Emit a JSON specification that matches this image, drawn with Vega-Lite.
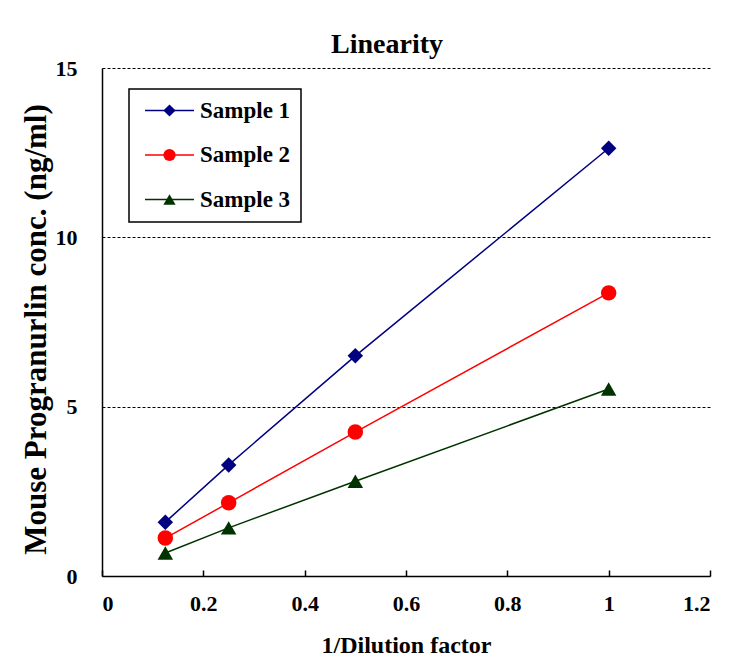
{
  "$schema": "https://vega.github.io/schema/vega-lite/v6.json",
  "autosize": {"type": "none"},
  "padding": {"left": 102, "top": 68, "right": 25, "bottom": 84},
  "width": 608,
  "height": 508,
  "background": "white",
  "title": {
    "text": "Linearity",
    "font": "Liberation Serif",
    "fontSize": 28,
    "fontWeight": "bold",
    "color": "black",
    "offset": -2,
    "dx": -19
  },
  "data": {
    "values": [
      {"series": "Sample 1", "marker": "Sample 1", "x": 0.125, "y": 1.59},
      {"series": "Sample 1", "marker": "Sample 1", "x": 0.25, "y": 3.28},
      {"series": "Sample 1", "marker": "Sample 1", "x": 0.5, "y": 6.5},
      {"series": "Sample 1", "marker": "Sample 1", "x": 1, "y": 12.63},
      {"series": "Sample 2", "marker": "Sample 2", "x": 0.125, "y": 1.12},
      {"series": "Sample 2", "marker": "Sample 2", "x": 0.25, "y": 2.16},
      {"series": "Sample 2", "marker": "Sample 2", "x": 0.5, "y": 4.25},
      {"series": "Sample 2", "marker": "Sample 2", "x": 1, "y": 8.36},
      {"series": "Sample 3", "marker": "Sample 3", "x": 0.125, "y": 0.68},
      {"series": "Sample 3", "marker": "Sample 3", "x": 0.25, "y": 1.42},
      {"series": "Sample 3", "marker": "Sample 3", "x": 0.5, "y": 2.8},
      {"series": "Sample 3", "marker": "Sample 3", "x": 1, "y": 5.52}
    ]
  },
  "encoding": {
    "x": {
      "field": "x",
      "type": "quantitative",
      "title": "1/Dilution factor",
      "scale": {"domain": [0, 1.2], "nice": false, "zero": false},
      "axis": {
        "values": [0, 0.2, 0.4, 0.6, 0.8, 1, 1.2],
        "labelExpr": "datum.value == 0 ? '0' : datum.value == 1 ? '1' : format(datum.value, '.1f')",
        "grid": false,
        "tickSize": -6,
        "labelPadding": 23,
        "titlePadding": 19
      }
    },
    "y": {
      "field": "y",
      "type": "quantitative",
      "title": "Mouse Progranurlin conc. (ng/ml)",
      "scale": {"domain": [0, 15], "nice": false},
      "axis": {
        "values": [0, 5, 10, 15],
        "grid": true,
        "gridDash": [3, 2],
        "gridColor": "black",
        "gridWidth": 1,
        "ticks": false,
        "labelPadding": 25,
        "titlePadding": 3,
        "titleY": 261,
        "titleFontSize": 31
      }
    }
  },
  "layer": [
    {
      "mark": {"type": "line", "strokeWidth": 1.5},
      "encoding": {
        "color": {
          "field": "series",
          "type": "nominal",
          "scale": {
            "domain": ["Sample 1", "Sample 2", "Sample 3"],
            "range": ["#000080", "#FF0000", "#003300"]
          },
          "legend": {
            "orient": "none",
            "legendX": 27,
            "legendY": 21,
            "title": null,
            "symbolType": "M-4,0H4",
            "symbolSize": 150,
            "symbolStrokeWidth": 1.5,
            "symbolOffset": 19,
            "labelOffset": 19,
            "labelExpr": "datum.label + ' '",
            "padding": 10,
            "rowPadding": 20.5,
            "strokeColor": "black",
            "encode": {"legend": {"update": {"strokeWidth": {"value": 1.5}}}}
          }
        }
      }
    },
    {
      "mark": {"type": "point", "filled": true, "opacity": 1, "size": 240},
      "encoding": {
        "color": {
          "field": "marker",
          "type": "nominal",
          "scale": {"range": ["#000080", "#FF0000", "#003300"]},
          "legend": {
            "orient": "none",
            "legendX": 27,
            "legendY": 21,
            "title": null,
            "symbolSize": 150,
            "symbolOpacity": 1,
            "symbolStrokeWidth": 0,
            "symbolOffset": 19,
            "labelOffset": 19,
            "labelOpacity": 0,
            "padding": 10,
            "rowPadding": 20.5
          }
        },
        "shape": {
          "field": "marker",
          "type": "nominal",
          "scale": {"range": ["diamond", "circle", "triangle-up"]},
          "legend": {
            "orient": "none",
            "legendX": 27,
            "legendY": 21,
            "title": null,
            "symbolSize": 150,
            "symbolOpacity": 1,
            "symbolStrokeWidth": 0,
            "symbolOffset": 19,
            "labelOffset": 19,
            "labelOpacity": 0,
            "padding": 10,
            "rowPadding": 20.5
          }
        }
      }
    }
  ],
  "resolve": {
    "scale": {"color": "independent", "shape": "independent"},
    "legend": {"color": "independent", "shape": "independent"}
  },
  "config": {
    "view": {"stroke": null},
    "font": "Liberation Serif",
    "axis": {
      "labelFont": "Liberation Serif",
      "labelFontSize": 22,
      "labelFontWeight": "bold",
      "labelColor": "black",
      "titleFont": "Liberation Serif",
      "titleFontSize": 24,
      "titleFontWeight": "bold",
      "titleColor": "black",
      "domainColor": "black",
      "domainWidth": 1.5,
      "tickColor": "black",
      "tickWidth": 1.5
    },
    "legend": {
      "labelFont": "Liberation Serif",
      "labelFontSize": 23,
      "labelFontWeight": "bold",
      "labelColor": "black"
    }
  }
}
